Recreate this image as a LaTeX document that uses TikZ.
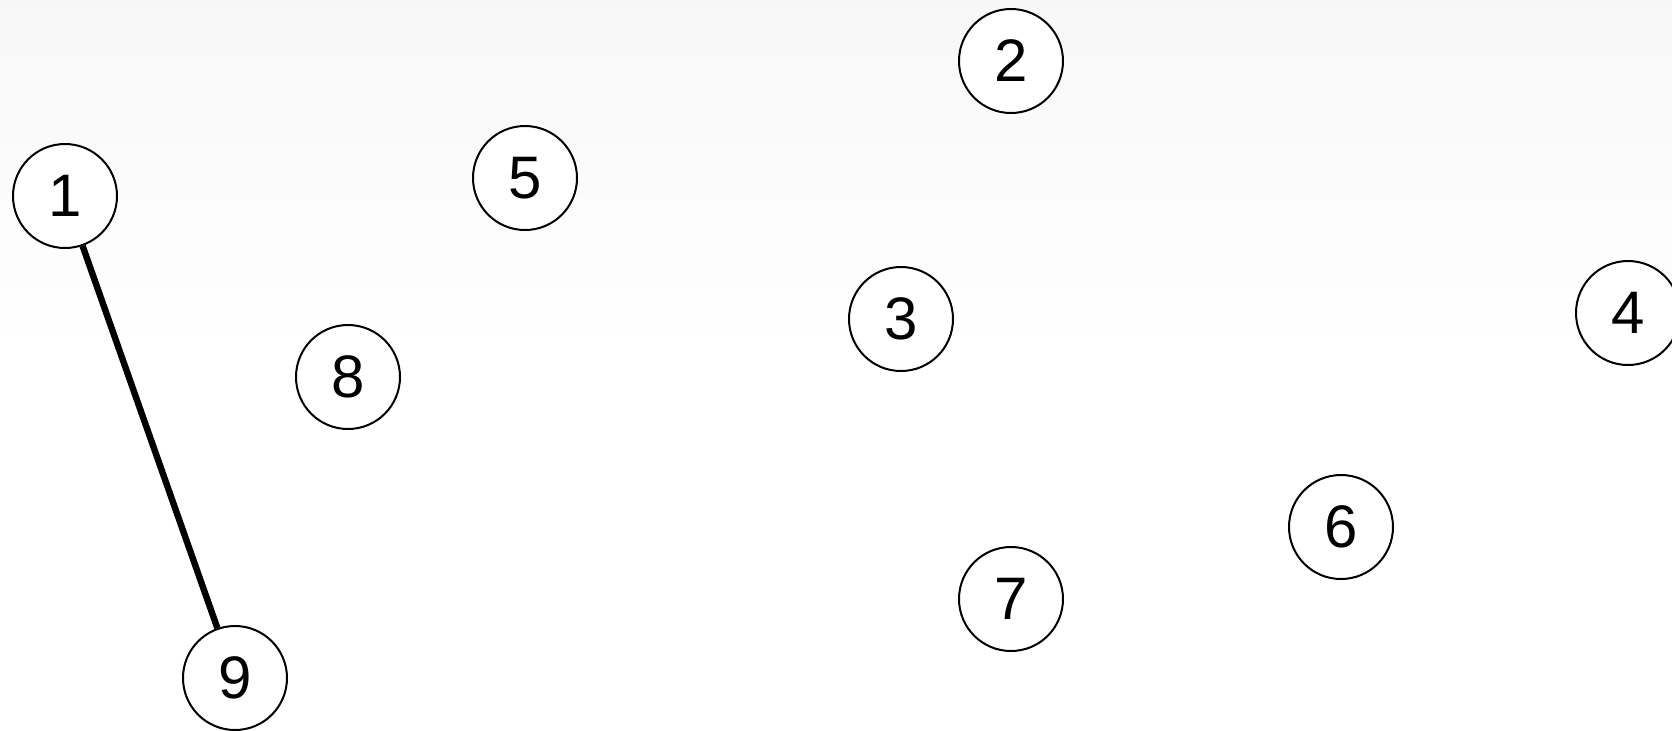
\documentclass[tikz,border=0pt]{standalone}
\usepackage{fontspec}
\setmainfont{Liberation Sans}
\begin{document}
\begin{tikzpicture}[x=0.5pt, y=-0.5pt,
    vertex/.style={circle, draw=black, line width=1pt, fill=white,
        minimum size=52pt, inner sep=0pt, font=\fontsize{30}{30}\selectfont},
    link/.style={line width=3.2pt, black}]
    \useasboundingbox (0,0) rectangle (1672,730);
    \clip (0,0) rectangle (1672,730);
    \fill[white] (0,0) rectangle (1672,730);
    \shade[top color=black!3, bottom color=white] (0,0) rectangle (1672,360);

    \node[vertex] (n1) at (65,196) {1};
    \node[vertex] (n2) at (1011,61) {2};
    \node[vertex] (n3) at (901,319) {3};
    \node[vertex] (n4) at (1628,313) {4};
    \node[vertex] (n5) at (525,178) {5};
    \node[vertex] (n6) at (1341,527) {6};
    \node[vertex] (n7) at (1011,599) {7};
    \node[vertex] (n8) at (348,377) {8};
    \node[vertex] (n9) at (235,678) {9};

    \draw[link] (n1) -- (n9);
\end{tikzpicture}
\end{document}
